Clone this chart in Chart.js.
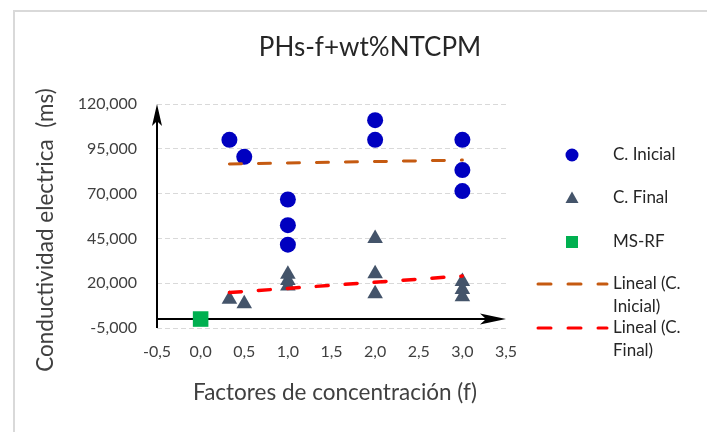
<!DOCTYPE html>
<html>
<head>
<meta charset="utf-8">
<script src="https://cdn.jsdelivr.net/npm/chart.js@4.4.1/dist/chart.umd.min.js"></script>
<style>
  html, body { margin: 0; padding: 0; background: #fff; }
</style>
</head>
<body>
<canvas id="chart" width="707" height="432"></canvas>
<script>
// data
const xInicial = [0.33, 0.5, 1, 1, 1, 2, 2, 3, 3, 3];
const yInicial = [100000, 90500, 66700, 52400, 41500, 111000, 100000, 100000, 83100, 71400];
const xFinal = [0.33, 0.5, 1, 1, 1, 2, 2, 2, 3, 3, 3];
const yFinal = [11000, 8500, 25000, 21500, 18500, 45000, 25300, 14100, 21000, 16500, 12500];
const xMSRF = [0];
const yMSRF = [0];
const trendX = [0.33, 3];
const trendInicialY = [86500, 88700];
const trendFinalY = [14800, 24000];
const xTicks = [-0.5, 0, 0.5, 1, 1.5, 2, 2.5, 3, 3.5];
const yTicks = [-5000, 20000, 45000, 70000, 95000, 120000];

const chartTitle = 'PHs-f+wt%NTCPM';
const xTitle = 'Factores de concentración (f)';
const yTitle = 'Conductividad electrica  (ms)';

const FONT = "Lato, 'Open Sans', sans-serif";
const BLUE = "#0000C0", SLATE = "#44546A", GREEN = "#00B050";
const ORANGE = "#C55A11", RED = "#FF0000";

const pts = (xs, ys) => xs.map((x, i) => ({x: x, y: ys[i]}));

// light frame and the three titles
const frame = {
	id: 'frame',
	beforeDraw(chart) {
		const ctx = chart.ctx;
		ctx.save();
		ctx.strokeStyle = "#D9D9D9";
		ctx.lineWidth = 2;
		ctx.beginPath();
		ctx.moveTo(14, 432);
		ctx.lineTo(14, 11);
		ctx.lineTo(707, 11);
		ctx.stroke();

		ctx.textAlign = 'center';
		ctx.textBaseline = 'middle';
		ctx.fillStyle = "#262626";
		ctx.font = "26px " + FONT;
		ctx.fillText(chartTitle, 370, 48);
		ctx.fillStyle = "#404040";
		ctx.font = "22.5px " + FONT;
		ctx.fillText(xTitle, 335, 393);
		ctx.translate(46, 230);
		ctx.rotate(-Math.PI / 2);
		ctx.fillText(yTitle, 0, 0);
		ctx.restore();
	}
};

// black axes with arrow heads, drawn under the markers
const arrows = {
	id: 'arrows',
	beforeDatasetsDraw(chart) {
		const {ctx, scales: {x, y}} = chart;
		const xl = x.getPixelForValue(xTicks[0]);
		const xr = x.getPixelForValue(xTicks[xTicks.length - 1]);
		const yb = y.getPixelForValue(yTicks[0]);
		const yt = y.getPixelForValue(yTicks[yTicks.length - 1]);
		const y0 = y.getPixelForValue(0);
		ctx.save();
		ctx.strokeStyle = "#000";
		ctx.fillStyle = "#000";
		ctx.lineWidth = 2;
		ctx.beginPath();
		ctx.moveTo(xl, yb);
		ctx.lineTo(xl, yt + 12);
		ctx.moveTo(xl, y0);
		ctx.lineTo(xr - 12, y0);
		ctx.stroke();
		ctx.beginPath();
		ctx.moveTo(xl, yt);
		ctx.lineTo(xl + 5, yt + 22);
		ctx.lineTo(xl, yt + 17);
		ctx.lineTo(xl - 5, yt + 22);
		ctx.closePath();
		ctx.fill();
		ctx.beginPath();
		ctx.moveTo(xr, y0);
		ctx.lineTo(xr - 26, y0 - 5.5);
		ctx.lineTo(xr - 20, y0);
		ctx.lineTo(xr - 26, y0 + 5.5);
		ctx.closePath();
		ctx.fill();
		ctx.restore();
	}
};

const legendItems = [
	{kind: 'circle', color: BLUE, text: ['C. Inicial'], y: 155},
	{kind: 'triangle', color: SLATE, text: ['C. Final'], y: 198},
	{kind: 'square', color: GREEN, text: ['MS-RF'], y: 242},
	{kind: 'line', color: ORANGE, text: ['Lineal (C.', 'Inicial)'], y: 284},
	{kind: 'line', color: RED, text: ['Lineal (C.', 'Final)'], y: 328}
];

const sideLegend = {
	id: 'sideLegend',
	afterDraw(chart) {
		const ctx = chart.ctx;
		ctx.save();
		legendItems.forEach(it => {
			const mx = 572, my = it.y;
			ctx.fillStyle = it.color;
			ctx.strokeStyle = it.color;
			if (it.kind === 'circle') {
				ctx.beginPath();
				ctx.arc(mx, my, 6.5, 0, Math.PI * 2);
				ctx.fill();
			} else if (it.kind === 'triangle') {
				ctx.beginPath();
				ctx.moveTo(mx, my - 6.5);
				ctx.lineTo(mx + 6.5, my + 5);
				ctx.lineTo(mx - 6.5, my + 5);
				ctx.closePath();
				ctx.fill();
			} else if (it.kind === 'square') {
				ctx.fillRect(mx - 6, my - 6, 12, 12);
			} else {
				ctx.lineWidth = 3;
				ctx.lineCap = 'round';
				ctx.setLineDash([13, 17]);
				ctx.beginPath();
				ctx.moveTo(538, my);
				ctx.lineTo(607, my);
				ctx.stroke();
				ctx.setLineDash([]);
			}
			ctx.fillStyle = "#262626";
			ctx.font = "17px " + FONT;
			ctx.textAlign = 'left';
			ctx.textBaseline = 'middle';
			it.text.forEach((t, i) => ctx.fillText(t, 613, my + i * 23));
		});
		ctx.restore();
	}
};

const ctx = document.getElementById("chart");
const chart = new Chart(ctx, {
	type: 'scatter',
	data: {
		datasets: [
			{
				label: "C. Inicial",
				data: pts(xInicial, yInicial),
				pointStyle: 'circle',
				pointRadius: 8,
				backgroundColor: BLUE,
				borderColor: BLUE,
				borderWidth: 0,
				order: 1
			},
			{
				label: "C. Final",
				data: pts(xFinal, yFinal),
				pointStyle: 'triangle',
				pointRadius: 9,
				backgroundColor: SLATE,
				borderColor: SLATE,
				borderWidth: 0,
				order: 1
			},
			{
				label: "MS-RF",
				data: pts(xMSRF, yMSRF),
				pointStyle: 'rect',
				pointRadius: 11,
				backgroundColor: GREEN,
				borderColor: GREEN,
				borderWidth: 0,
				order: 1
			},
			{
				type: 'line',
				label: "Lineal (C. Inicial)",
				data: pts(trendX, trendInicialY),
				borderColor: ORANGE,
				borderWidth: 3,
				borderDash: [12, 17],
				borderCapStyle: 'round',
				pointRadius: 0,
				fill: false,
				order: 0
			},
			{
				type: 'line',
				label: "Lineal (C. Final)",
				data: pts(trendX, trendFinalY),
				borderColor: RED,
				borderWidth: 3.5,
				borderDash: [12, 17],
				borderCapStyle: 'round',
				pointRadius: 0,
				fill: false,
				order: 0
			}
		]
	},
	options: {
		responsive: false,
		animation: false,
		layout: {padding: {left: 0, right: 201, top: 104, bottom: 0}},
		plugins: {
			legend: {display: false},
			tooltip: {enabled: false},
			title: {display: false}
		},
		scales: {
			x: {
				type: 'linear',
				min: xTicks[0],
				max: xTicks[xTicks.length - 1],
				afterBuildTicks: s => { s.ticks = xTicks.map(v => ({value: v})); },
				afterFit: s => { s.height = 104; },
				ticks: {
					color: '#404040',
					font: {family: FONT, size: 16},
					padding: 14,
					callback: v => v.toFixed(1).replace('.', ',')
				},
				grid: {display: false, drawTicks: false},
				border: {display: false}
			},
			y: {
				min: yTicks[0],
				max: yTicks[yTicks.length - 1],
				afterBuildTicks: s => { s.ticks = yTicks.map(v => ({value: v})); },
				afterFit: s => { s.width = 157; },
				ticks: {
					color: '#404040',
					font: {family: FONT, size: 16},
					padding: 20,
					callback: v => v.toLocaleString('en-US')
				},
				grid: {color: '#D9D9D9', lineWidth: 1, drawTicks: false},
				border: {display: false, dash: [5, 3]}
			}
		}
	},
	plugins: [frame, arrows, sideLegend]
});
</script>
</body>
</html>
